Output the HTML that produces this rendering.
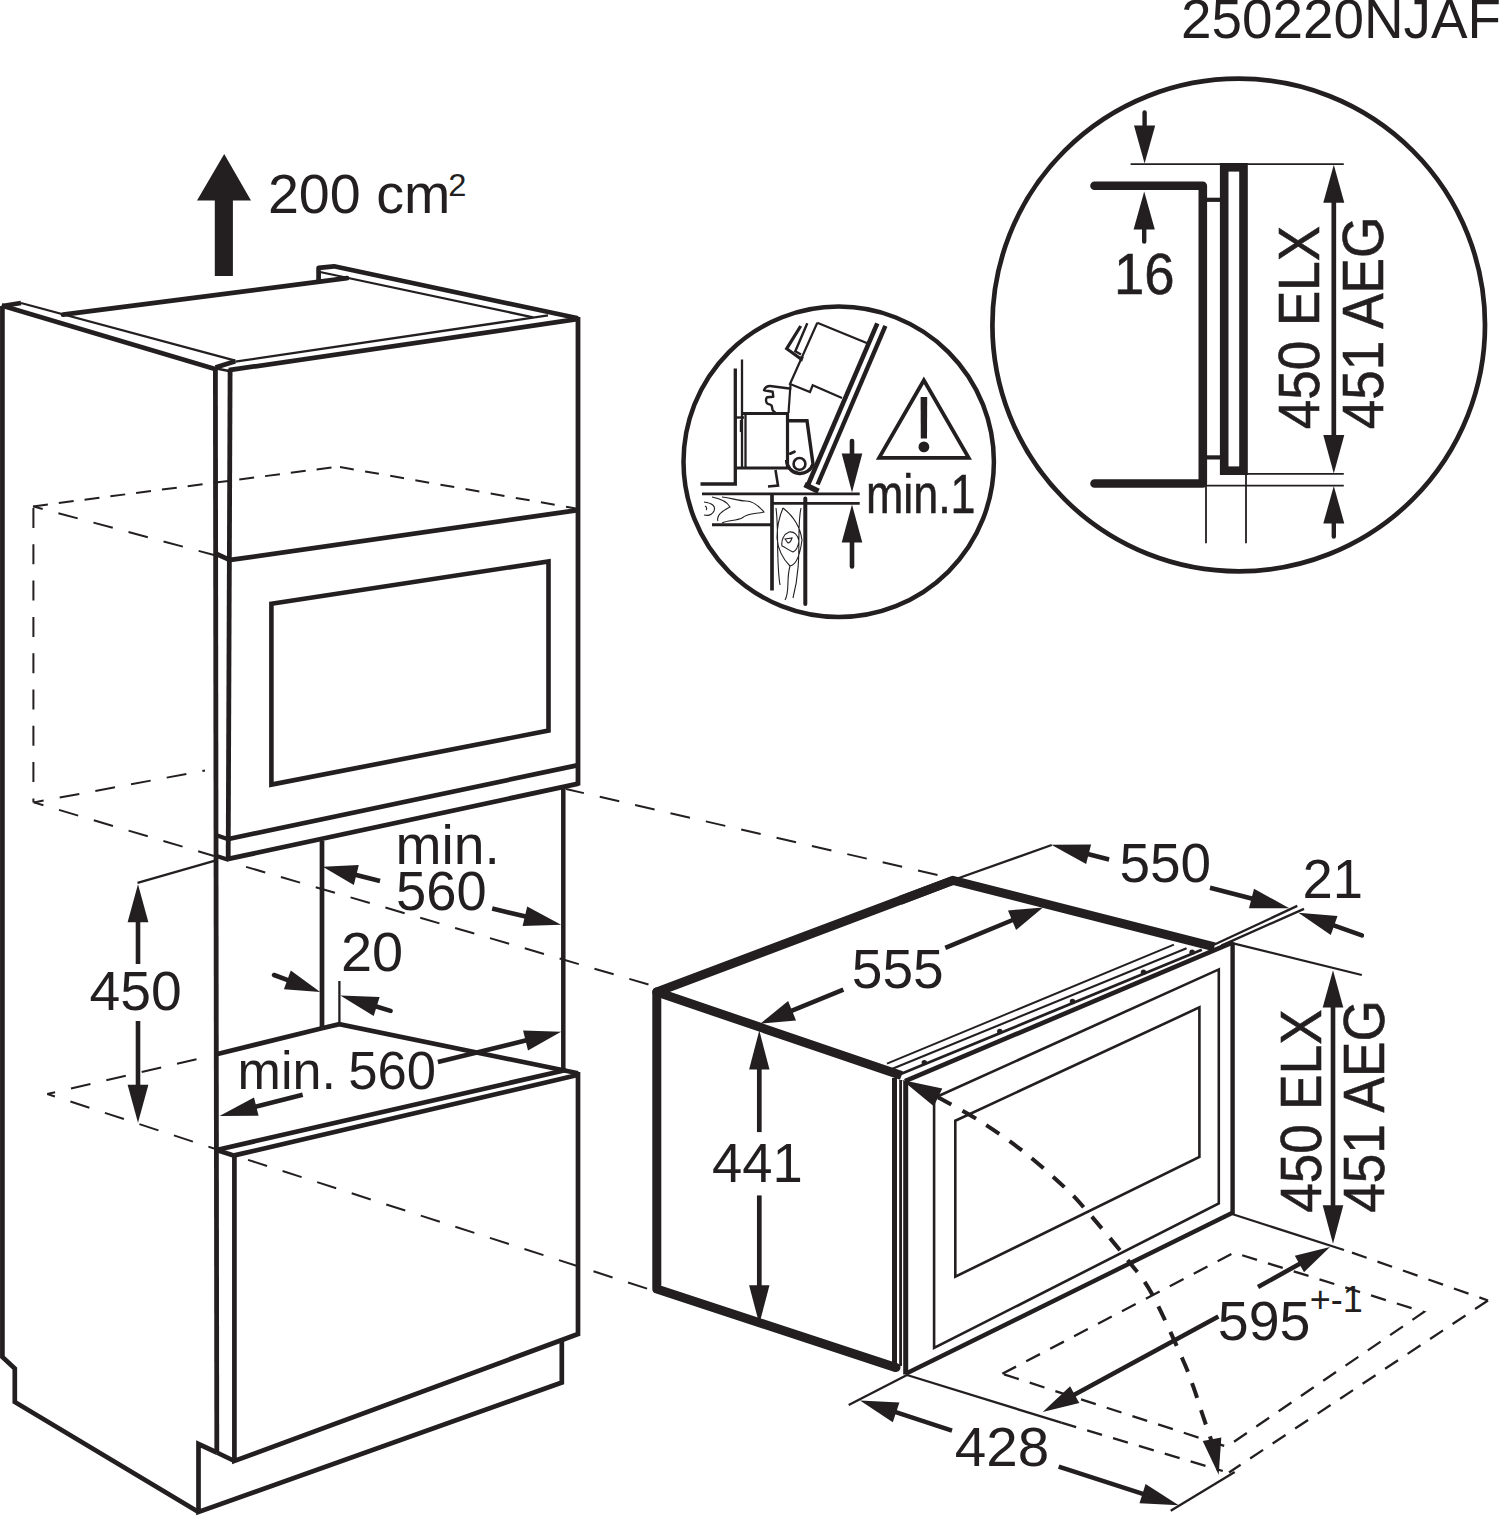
<!DOCTYPE html>
<html lang="en">
<head>
<meta charset="utf-8">
<title>Built-in dimensions 250220NJAF</title>
<style>
html,body{margin:0;padding:0;background:#fff;}
body{width:1500px;height:1516px;overflow:hidden;}
svg{display:block;}
svg text{font-family:"Liberation Sans",sans-serif;fill:#231f20;}
</style>
</head>
<body>
<svg width="1500" height="1516" viewBox="0 0 1500 1516" fill="none" stroke="#231f20">
<rect x="0" y="0" width="1500" height="1516" fill="#fff" stroke="none"/>
<!-- reference code -->
<text transform="translate(1181.1 38) scale(0.9876 1)" font-size="55.5" stroke="none">250220NJAF</text>
<!-- ventilation arrow + 200 cm2 -->
<polygon points="224.2,154 251,200.4 232.9,200.4 232.9,276 214.8,276 214.8,200.4 197,200.4" fill="#231f20" stroke="none"/>
<text transform="translate(267.9 213.1) scale(1.0026 1)" font-size="55.5" stroke="none">200 cm</text>
<text transform="translate(448.3 195.9) scale(1.0540 1)" font-size="31" stroke="none">2</text>
<!-- tall cabinet -->
<line x1="33" y1="506.4" x2="335" y2="467" stroke-width="2" stroke-dasharray="15 11"/>
<line x1="340" y1="467" x2="576" y2="508.5" stroke-width="2" stroke-dasharray="14 11.5"/>
<line x1="33.4" y1="508" x2="33.4" y2="802.4" stroke-width="2" stroke-dasharray="20 16.3"/>
<line x1="33" y1="506.4" x2="214" y2="555" stroke-width="2" stroke-dasharray="20 16.3" stroke-dashoffset="10"/>
<line x1="33.8" y1="802.4" x2="205" y2="770.5" stroke-width="2" stroke-dasharray="20 16.3" stroke-dashoffset="10"/>
<line x1="33.8" y1="802.4" x2="214" y2="856" stroke-width="2" stroke-dasharray="20 16.3" stroke-dashoffset="10"/>
<line x1="47.3" y1="1094" x2="200" y2="1058.4" stroke-width="2" stroke-dasharray="20 16.3" stroke-dashoffset="12"/>
<line x1="47.3" y1="1094" x2="214" y2="1148.5" stroke-width="2" stroke-dasharray="20 16.3" stroke-dashoffset="12"/>
<line x1="648.5" y1="984.5" x2="242.5" y2="865.8" stroke-width="2" stroke-dasharray="20 16.3"/>
<line x1="937.5" y1="875" x2="566" y2="789" stroke-width="2" stroke-dasharray="20 16.3"/>
<line x1="647.1" y1="1288.6" x2="238" y2="1156.6" stroke-width="2" stroke-dasharray="20 16.3"/>
<polyline points="2.4,306 2.4,1357 14.8,1368.5 14.8,1402 198.5,1512" fill="none" stroke-width="4.7"/>
<polyline points="2.4,306 21,303" fill="none" stroke-width="4.7"/>
<line x1="1.6" y1="305.6" x2="215" y2="369" stroke-width="4.7"/>
<line x1="21" y1="303" x2="235.3" y2="360.7" stroke-width="2.3"/>
<line x1="215.5" y1="367.5" x2="235.3" y2="361.3" stroke-width="4.7"/>
<line x1="214" y1="368" x2="229" y2="371" stroke-width="2.3"/>
<line x1="63" y1="314.6" x2="347" y2="278.2" stroke-width="4.7" stroke-linecap="round"/>
<polyline points="318.6,281 318.6,267.8 334,266.3 578,318.3" fill="none" stroke-width="4.7" stroke-linejoin="round"/>
<line x1="320" y1="272" x2="533" y2="317.3" stroke-width="2.3"/>
<line x1="235.3" y1="361.6" x2="548" y2="315.4" stroke-width="2.3"/>
<line x1="228.8" y1="370.2" x2="577" y2="319.2" stroke-width="4.7"/>
<line x1="215.4" y1="367" x2="216.8" y2="1453" stroke-width="4.8"/>
<line x1="230.1" y1="369" x2="228.2" y2="859" stroke-width="4.8"/>
<line x1="578" y1="317" x2="578" y2="785.5" stroke-width="4.8"/>
<line x1="228.8" y1="560.2" x2="578" y2="510.1" stroke-width="4.7"/>
<line x1="215.5" y1="553.5" x2="229" y2="559.7" stroke-width="4.7"/>
<polygon points="271.4,603.8 548.5,561.4 548.5,730.6 271.4,784.6" fill="none" stroke-width="4.6"/>
<line x1="228.5" y1="839" x2="577" y2="765.4" stroke-width="4.7"/>
<line x1="228.5" y1="858.9" x2="578.5" y2="783.6" stroke-width="4.7"/>
<line x1="215.7" y1="835" x2="229" y2="839.5" stroke-width="4.2"/>
<line x1="215.7" y1="855.8" x2="229" y2="860" stroke-width="4.2"/>
<line x1="563.3" y1="787" x2="563.3" y2="1070" stroke-width="4.5"/>
<line x1="322" y1="841" x2="322" y2="1028" stroke-width="4.7"/>
<line x1="339.4" y1="981" x2="339.4" y2="1024" stroke-width="2.3"/>
<polyline points="216.5,1054.3 322,1028.2 339.3,1024.2 578,1073.3" fill="none" stroke-width="4.7"/>
<line x1="216.6" y1="1150" x2="566" y2="1070" stroke-width="4.7"/>
<line x1="234.4" y1="1155.4" x2="576.5" y2="1075.3" stroke-width="4.7"/>
<line x1="216.6" y1="1150" x2="234.4" y2="1155.8" stroke-width="4.7"/>
<polyline points="234.4,1155 234.4,1461 578,1334 578,1072" fill="none" stroke-width="4.7"/>
<polyline points="216.8,1452.5 198.5,1444 198.5,1512 561.8,1382.5 561.8,1341" fill="none" stroke-width="4.7"/>
<line x1="216.8" y1="1452.5" x2="234.4" y2="1461" stroke-width="4.7"/>
<line x1="137.5" y1="882.8" x2="216" y2="860.4" stroke-width="2.3"/>
<polygon points="138,884.3 148.4,922.3 127.6,922.3" fill="#231f20" stroke="none"/>
<line x1="138" y1="964" x2="138" y2="920.3" stroke-width="4.6"/>
<polygon points="138,1122.8 127.6,1084.8 148.4,1084.8" fill="#231f20" stroke="none"/>
<line x1="138" y1="1021" x2="138" y2="1086.8" stroke-width="4.6"/>
<text transform="translate(89.5 1010.3) scale(0.9963 1)" font-size="55.5" stroke="none">450</text>
<text transform="translate(395.5 864.1) scale(0.9956 1)" font-size="55.5" stroke="none">min.</text>
<text transform="translate(396 910.3) scale(0.9786 1)" font-size="55.5" stroke="none">560</text>
<polygon points="322.8,866.8 358.8,865.1 353.8,885.1" fill="#231f20" stroke="none"/>
<line x1="380" y1="881" x2="354.3" y2="874.6" stroke-width="4.6"/>
<polygon points="561.1,924.7 522.6,926.1 527.2,906.4" fill="#231f20" stroke="none"/>
<line x1="492.2" y1="908.6" x2="526.8" y2="916.7" stroke-width="4.6"/>
<text transform="translate(340.9 971) scale(1.0075 1)" font-size="55.5" stroke="none">20</text>
<polygon points="320.2,991.9 283.9,989.3 290.8,970.5" fill="#231f20" stroke="none"/>
<line x1="274" y1="975" x2="289.2" y2="980.6" stroke-width="4.6" stroke-linecap="round"/>
<polygon points="340.3,995.4 379.6,997 373.7,1016.1" fill="#231f20" stroke="none"/>
<line x1="390.6" y1="1010.9" x2="374.7" y2="1006" stroke-width="4.6" stroke-linecap="round"/>
<text transform="translate(237.6 1088.9) scale(0.9644 1)" font-size="54" stroke="none">min.</text>
<text transform="translate(348.2 1088.9) scale(0.9743 1)" font-size="54" stroke="none">560</text>
<polygon points="561.1,1031.8 528,1050.4 523.1,1030.6" fill="#231f20" stroke="none"/>
<line x1="437.9" y1="1061.9" x2="527.5" y2="1040" stroke-width="4.6"/>
<polygon points="219.5,1116 254,1097.5 258.6,1115.7" fill="#231f20" stroke="none"/>
<line x1="302.7" y1="1094.7" x2="254.4" y2="1107.1" stroke-width="4.6"/>
<!-- loose appliance -->
<polyline points="900,900.5 953,880.4 1214.4,946.9" fill="none" stroke-width="9"/>
<polyline points="901.5,1075.5 656.8,992 953,880.4" fill="none" stroke-width="9" stroke-linejoin="round"/>
<polyline points="656.8,992 656.8,1289 896,1367.6" fill="none" stroke-width="9" stroke-linejoin="round" stroke-linecap="round"/>
<line x1="887" y1="1063.6" x2="1173.9" y2="944.7" stroke-width="1.9"/>
<line x1="890" y1="1069.7" x2="1186.6" y2="948.3" stroke-width="2.1"/>
<line x1="897.7" y1="1075.3" x2="1201.8" y2="949.8" stroke-width="2.8"/>
<line x1="905" y1="1081.2" x2="1233.4" y2="942.2" stroke-width="4.6"/>
<circle cx="924.3" cy="1062.6" r="2.7" fill="#231f20" stroke="none"/>
<circle cx="999.8" cy="1031.5" r="2.7" fill="#231f20" stroke="none"/>
<circle cx="1072.5" cy="1001.5" r="2.7" fill="#231f20" stroke="none"/>
<circle cx="1143.5" cy="972.2" r="2.7" fill="#231f20" stroke="none"/>
<circle cx="1192.1" cy="952.2" r="2.7" fill="#231f20" stroke="none"/>
<line x1="1214.5" y1="944.5" x2="1297.3" y2="905.9" stroke-width="2.3"/>
<line x1="1221.3" y1="945.6" x2="1304" y2="908.9" stroke-width="2.3"/>
<line x1="894.5" y1="1078" x2="894.5" y2="1368" stroke-width="5"/>
<line x1="900.6" y1="1080" x2="900.6" y2="1366" stroke-width="2.8"/>
<line x1="905.7" y1="1081" x2="905.7" y2="1374.5" stroke-width="5"/>
<line x1="905.7" y1="1373.8" x2="1232" y2="1213" stroke-width="4.4"/>
<line x1="1232.6" y1="942.5" x2="1232.6" y2="1214" stroke-width="4.4"/>
<polygon points="934.1,1098 1218.8,969.4 1218.8,1203.5 934.1,1348" fill="none" stroke-width="2.6"/>
<polygon points="955.3,1120.7 1199.4,1007.4 1199.4,1157 955.3,1276.7" fill="none" stroke-width="2.6"/>
<line x1="953.3" y1="880" x2="1051.7" y2="845" stroke-width="2.3"/>
<line x1="1233.2" y1="943.3" x2="1361.8" y2="975" stroke-width="2.3"/>
<line x1="1232" y1="1214" x2="1344" y2="1250" stroke-width="2.3"/>
<line x1="907" y1="1375" x2="848.7" y2="1404.9" stroke-width="2.3"/>
<line x1="907" y1="1375" x2="1061.3" y2="1422.7" stroke-width="2.3"/>
<line x1="1234.7" y1="1472" x2="1170.7" y2="1510.7" stroke-width="2.3"/>
<line x1="1061.3" y1="1422.7" x2="1222.8" y2="1471" stroke-width="2.3" stroke-dasharray="15.5 11.5"/>
<line x1="1352" y1="1252.6" x2="1488" y2="1300.5" stroke-width="2.3" stroke-dasharray="15.5 11.5"/>
<line x1="1488" y1="1300.5" x2="1229" y2="1472.5" stroke-width="2.3" stroke-dasharray="15.5 11.5"/>
<polygon points="1002.3,1373.8 1234,1252.7 1424,1312 1226.7,1446.7" fill="none" stroke-width="2.3" stroke-dasharray="15.5 11.5"/>
<path d="M 938,1097.3 C 944.9,1101.2 965,1111.6 979.3,1120.7 C 993.6,1129.8 1009.7,1140.8 1024,1152 C 1038.3,1163.2 1054.8,1178.2 1065.3,1188 C 1075.8,1197.8 1076.5,1198.9 1086.7,1210.7 C 1096.9,1222.5 1115.8,1244.8 1126.7,1258.7 C 1137.6,1272.6 1142.7,1277.3 1152,1294 C 1161.3,1310.7 1175.6,1343.5 1182.5,1359 C 1189.4,1374.5 1189.9,1377.2 1193.3,1386.7 C 1196.7,1396.2 1200,1407 1203,1416 C 1206,1425 1210.1,1436.8 1211.5,1441" fill="none" stroke-width="4" stroke-dasharray="15.5 12.5"/>
<polygon points="902,1080 942.3,1088.4 933.8,1106.2" fill="#231f20" stroke="none"/>
<polygon points="1218.7,1474.7 1202.7,1441.1 1221.3,1437.6" fill="#231f20" stroke="none"/>
<text transform="translate(851.8 988.3) scale(0.9918 1)" font-size="55.5" stroke="none">555</text>
<polygon points="1043,907.4 1016.1,929.9 1008,910.5" fill="#231f20" stroke="none"/>
<line x1="945.3" y1="947.9" x2="1013.9" y2="919.5" stroke-width="4.5"/>
<polygon points="760.6,1023.5 788.1,1000.9 796,1020.4" fill="#231f20" stroke="none"/>
<line x1="843.4" y1="989.7" x2="790.2" y2="1011.4" stroke-width="4.5"/>
<text transform="translate(712.1 1182) scale(0.9800 1)" font-size="55.5" stroke="none">441</text>
<polygon points="759.3,1030.6 769.5,1069.6 749.1,1069.6" fill="#231f20" stroke="none"/>
<line x1="759.3" y1="1132.1" x2="759.3" y2="1067.6" stroke-width="4.7"/>
<polygon points="759.3,1324 749.1,1285.3 769.5,1285.3" fill="#231f20" stroke="none"/>
<line x1="759.3" y1="1195.4" x2="759.3" y2="1287.3" stroke-width="4.7"/>
<text transform="translate(1119.4 881.6) scale(0.9899 1)" font-size="55.5" stroke="none">550</text>
<polygon points="1051.3,844.7 1091.1,844.4 1086.1,864.1" fill="#231f20" stroke="none"/>
<line x1="1109.1" y1="859.5" x2="1086.7" y2="853.8" stroke-width="4.5"/>
<polygon points="1289.3,908.2 1249,908.2 1254,888.8" fill="#231f20" stroke="none"/>
<line x1="1210" y1="887.8" x2="1253.5" y2="899" stroke-width="4.5"/>
<text transform="translate(1302.5 898) scale(0.9800 1)" font-size="55.5" stroke="none">21</text>
<polygon points="1298.4,912.7 1337.5,916.1 1330.8,934.9" fill="#231f20" stroke="none"/>
<line x1="1361.9" y1="935.4" x2="1332.3" y2="924.8" stroke-width="4.5" stroke-linecap="round"/>
<polygon points="1333,970.3 1343.3,1007.6 1322.7,1007.6" fill="#231f20" stroke="none"/>
<line x1="1333" y1="1100" x2="1333" y2="1005.6" stroke-width="4.6"/>
<polygon points="1333,1243.8 1322.7,1205.3 1343.3,1205.3" fill="#231f20" stroke="none"/>
<line x1="1333" y1="1100" x2="1333" y2="1207.3" stroke-width="4.6"/>
<text transform="translate(1320.7 1212.8) rotate(-90) scale(0.9218 1)" font-size="57.5" stroke="#231f20" stroke-width="0.6">450 ELX</text>
<text transform="translate(1384.3 1212.8) rotate(-90) scale(0.9237 1)" font-size="57.5" stroke="#231f20" stroke-width="0.6">451 AEG</text>
<text transform="translate(1217.8 1339.5) scale(0.9997 1)" font-size="55.5" stroke="none">595</text>
<text transform="translate(1309.8 1312) scale(1.0000 1)" font-size="36" stroke="none">+-1</text>
<polygon points="1330,1247 1304,1272.2 1294.8,1255.8" fill="#231f20" stroke="none"/>
<line x1="1258" y1="1287" x2="1301.2" y2="1263" stroke-width="4.5"/>
<polygon points="1042.7,1412 1070.1,1386.2 1079.3,1403.1" fill="#231f20" stroke="none"/>
<line x1="1218.4" y1="1316.6" x2="1072.9" y2="1395.6" stroke-width="4.5"/>
<text transform="translate(954.7 1466.2) scale(1.0201 1)" font-size="55.5" stroke="none">428</text>
<polygon points="860,1400.5 899.4,1402.4 892.8,1422.3" fill="#231f20" stroke="none"/>
<line x1="952" y1="1430.7" x2="894.2" y2="1411.7" stroke-width="4.5"/>
<polygon points="1178.7,1505.3 1139.5,1503.2 1145.6,1484.1" fill="#231f20" stroke="none"/>
<line x1="1058.7" y1="1466.7" x2="1144.4" y2="1494.3" stroke-width="4.5"/>
<!-- small detail circle -->
<circle cx="838.7" cy="461.8" r="155.2" fill="#fff" stroke-width="4.5"/>
<polygon points="923.9,380.2 879.1,457.9 968.7,457.9" fill="none" stroke-width="3.8"/>
<polygon points="920.6,397 927.2,397 927,438.5 920.8,438.5" fill="#231f20" stroke="none"/>
<circle cx="923.9" cy="446.9" r="5.4" fill="#231f20" stroke="none"/>
<text transform="translate(866 512.5) scale(0.8000 1)" font-size="56" stroke="#231f20" stroke-width="0.6">min.1</text>
<polygon points="852,492.4 841.7,453.6 862.3,453.6" fill="#231f20" stroke="none"/>
<line x1="852" y1="441" x2="852" y2="455.6" stroke-width="4.6" stroke-linecap="round"/>
<polygon points="852,504.5 862.3,542.5 841.7,542.5" fill="#231f20" stroke="none"/>
<line x1="852" y1="566.5" x2="852" y2="540.5" stroke-width="4.6" stroke-linecap="round"/>
<line x1="702" y1="493.8" x2="859.7" y2="493.8" stroke-width="2.8"/>
<line x1="772.7" y1="503.3" x2="859.7" y2="503.3" stroke-width="2.8"/>
<line x1="712" y1="524.7" x2="772" y2="524.7" stroke-width="3"/>
<line x1="772" y1="493" x2="772" y2="590.5" stroke-width="3.7"/>
<line x1="805.3" y1="498.5" x2="805.3" y2="604" stroke-width="4" stroke-linecap="round"/>
<polyline points="700.5,484 735.3,484 735.3,368.5" fill="none" stroke-width="3.3"/>
<line x1="742" y1="359.5" x2="742" y2="468.5" stroke-width="2.3"/>
<polyline points="742,413.5 787.5,413.5 787.5,468" fill="none" stroke-width="3.2"/>
<line x1="745.5" y1="413.5" x2="745.5" y2="468" stroke-width="2.3"/>
<line x1="736.5" y1="468" x2="789" y2="468" stroke-width="3.2"/>
<polyline points="775.5,470 778,485.5 768,486.5" fill="none" stroke-width="2.6"/>
<line x1="736" y1="417.5" x2="744" y2="417.5" stroke-width="2.4"/>
<line x1="741" y1="420" x2="741" y2="432" stroke-width="2.4"/>
<path d="M 791.3,388.7 L 772,386.2 C 768,385.6 765,387.5 764,390.2 L 772.7,391.8 L 773.3,396.7 L 767,397.2 C 765.5,399 765.8,402 767.3,403.5 C 769,404.6 770.5,404.3 771.5,405.5 C 772.5,407 771.8,409 772.8,410.3 C 773.5,411.4 774.5,412 775.5,412.7" fill="none" stroke-width="2.4" stroke-linejoin="round"/>
<path d="M 788.7,420.8 L 807,420.8 L 813,463.9 A 13.5,13.5 0 0 1 786.6,460" fill="none" stroke-width="3.4"/>
<circle cx="799.5" cy="463.9" r="5.9" stroke-width="2.6" fill="#fff"/>
<path d="M 790.3,453.6 L 794.5,451.8" fill="none" stroke-width="2.8" stroke-linecap="round"/>
<line x1="790.5" y1="384.5" x2="788.5" y2="413" stroke-width="2.2"/>
<polyline points="817.3,322.7 867.3,343.3" fill="none" stroke-width="2.2"/>
<polyline points="817.3,322.7 790,384 810,392 812.7,385.3 842,398" fill="none" stroke-width="2.2"/>
<polyline points="800.7,326 786.7,348.7 801.3,359.3 802.3,356.5" fill="none" stroke-width="3.2"/>
<polyline points="807.3,323.3 795.3,351.3 801,354.5" fill="none" stroke-width="2.4"/>
<line x1="877.3" y1="323.3" x2="807.3" y2="486.5" stroke-width="4.6"/>
<line x1="885.4" y1="325.8" x2="817.6" y2="484.5" stroke-width="4.4"/>
<line x1="804.6" y1="484.6" x2="818.5" y2="491.3" stroke-width="5.5"/>
<path d="M 712,497 C 722,499 728,503 730,507 C 722,511 716,516 718,521 M 722,497 C 732,498 738,501 746,501 C 752,501 758,505 764,512 C 756,514 748,513 742,518 C 736,521 728,520 722,523 M 704,502 C 712,503 716,506 714,511 C 712,515 708,516 704,515 M 705,506 C 707,507 707,509 706,510" fill="none" stroke-width="1.1"/>
<path d="M 776,508 C 779,530 776,560 780,585 M 801,508 C 796,530 803,560 793,598 M 783,508 C 792,515 800,525 802,540 C 800,555 796,565 790,566 C 784,560 778,550 777,538 C 777,525 780,515 783,508 M 789,532 C 794,531 798,535 799,541 C 798,547 796,551 793,552 C 788,550 785,547 782,546 C 781,540 784,534 789,532 M 785,539 L 792,538 C 791,541 790,543 788,543 Z M 790,566 C 786,580 790,592 785,600" fill="none" stroke-width="1.1"/>
<!-- large detail circle -->
<circle cx="1238.7" cy="325" r="246.3" fill="#fff" stroke-width="4.7"/>
<path d="M 1094.5,185.7 H 1202.8 V 483.5 H 1094.5" fill="none" stroke-width="8.6" stroke-linecap="round" stroke-linejoin="round"/>
<rect x="1224.2" y="167.3" width="19.3" height="303.4" fill="#fff" stroke-width="8.6"/>
<line x1="1206" y1="199.8" x2="1221" y2="199.8" stroke-width="4.2"/>
<line x1="1206" y1="457.4" x2="1221" y2="457.4" stroke-width="4.2"/>
<line x1="1130.6" y1="164.2" x2="1343.8" y2="164.2" stroke-width="1.8"/>
<line x1="1247" y1="473.9" x2="1343.8" y2="473.9" stroke-width="1.8"/>
<line x1="1206" y1="485.6" x2="1343.8" y2="485.6" stroke-width="1.8"/>
<line x1="1206" y1="485" x2="1206" y2="543.2" stroke-width="1.8"/>
<line x1="1246" y1="472" x2="1246" y2="543.2" stroke-width="1.8"/>
<polygon points="1144.6,163.6 1134,125.6 1155.2,125.6" fill="#231f20" stroke="none"/>
<line x1="1144.6" y1="112.4" x2="1144.6" y2="127.6" stroke-width="4.4" stroke-linecap="round"/>
<polygon points="1144.2,191.5 1154.8,229.5 1133.6,229.5" fill="#231f20" stroke="none"/>
<line x1="1144.2" y1="241.5" x2="1144.2" y2="227.5" stroke-width="4.4" stroke-linecap="round"/>
<text transform="translate(1113.9 293.5) scale(0.9635 1)" font-size="56.5" stroke="#231f20" stroke-width="0.6">16</text>
<polygon points="1333.8,164.8 1344.3,202.8 1323.3,202.8" fill="#231f20" stroke="none"/>
<line x1="1333.8" y1="300" x2="1333.8" y2="200.8" stroke-width="4.7"/>
<polygon points="1333.8,473.4 1323.3,434.9 1344.3,434.9" fill="#231f20" stroke="none"/>
<line x1="1333.8" y1="300" x2="1333.8" y2="436.9" stroke-width="4.7"/>
<polygon points="1333.8,486 1344.3,523.5 1323.3,523.5" fill="#231f20" stroke="none"/>
<line x1="1333.8" y1="536.5" x2="1333.8" y2="521.5" stroke-width="4.4" stroke-linecap="round"/>
<text transform="translate(1319.4 429.2) rotate(-90) scale(0.9223 1)" font-size="57.5" stroke="#231f20" stroke-width="0.6">450 ELX</text>
<text transform="translate(1383.2 429.2) rotate(-90) scale(0.9237 1)" font-size="57.5" stroke="#231f20" stroke-width="0.6">451 AEG</text>
</svg>
</body>
</html>
